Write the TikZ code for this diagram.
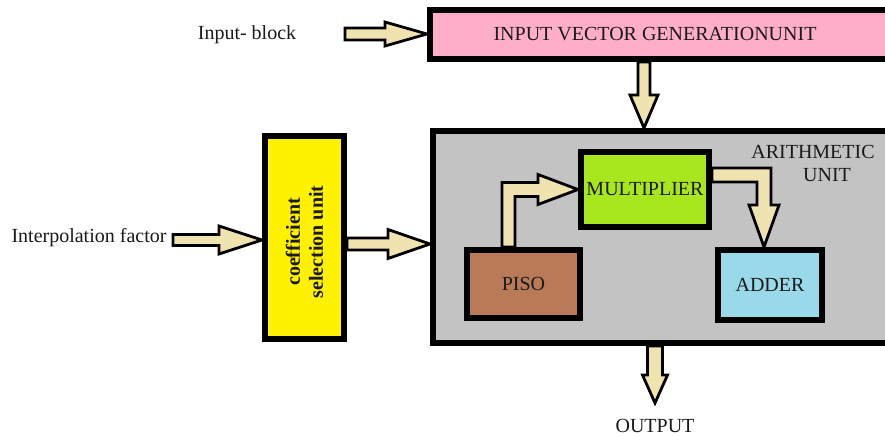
\documentclass[tikz,border=0pt]{standalone}
\usepackage{fontspec}
\setmainfont{Liberation Serif}
\usetikzlibrary{calc}
\definecolor{pinkc}{HTML}{FFAEC9}
\definecolor{grayc}{HTML}{C3C3C3}
\definecolor{yellowc}{HTML}{FFF200}
\definecolor{greenc}{HTML}{A8E61D}
\definecolor{brownc}{HTML}{B97A57}
\definecolor{bluec}{HTML}{99D9EA}
\definecolor{creamc}{HTML}{EFE4B0}
\definecolor{txtc}{HTML}{1A1A1A}
\tikzset{
  blk/.style={draw=black, line width=6pt, inner sep=0pt, text=txtc, font=\fontsize{20}{22}\selectfont},
  lbl/.style={inner sep=0pt, text=txtc, font=\fontsize{20}{22}\selectfont},
  fat/.style={draw=black, fill=creamc, line width=2.8pt, line join=miter},
}
\newcommand\FatH[5]{\draw[fat] let \p1=(#1), \p2=(#2) in
  (\x1,\y1+#4) -- (\x2-#3,\y1+#4) -- (\x2-#3,\y1+#5) -- (\x2,\y1) --
  (\x2-#3,\y1-#5) -- (\x2-#3,\y1-#4) -- (\x1,\y1-#4) -- cycle;}
\newcommand\FatV[5]{\draw[fat] let \p1=(#1), \p2=(#2) in
  (\x1-#4,\y1) -- (\x1-#4,\y2+#3) -- (\x1-#5,\y2+#3) -- (\x1,\y2) --
  (\x1+#5,\y2+#3) -- (\x1+#4,\y2+#3) -- (\x1+#4,\y1) -- cycle;}
\begin{document}
\begin{tikzpicture}[x=1pt,y=-1pt]
\useasboundingbox (0,0) rectangle (885,436);
\fill[white] (0,0) rectangle (885,436);

% boxes
\node[blk, fill=pinkc, minimum width=465pt, minimum height=49pt] (pink) at (662.5,34.5) {\hspace*{-15pt}INPUT VECTOR GENERATIONUNIT};
\node[blk, fill=grayc, minimum width=462pt, minimum height=212pt] (gray) at (664,237) {};
\node[blk, fill=yellowc, minimum width=79pt, minimum height=203pt] (coeff) at (304.5,237.5) {};
\node[lbl, rotate=90, align=center, font=\fontsize{20}{23}\selectfont\bfseries] (cofftxt) at (304.5,242) {coefficient\\selection unit};
\node[blk, fill=greenc, minimum width=128pt, minimum height=75pt] (mult) at (645,189.5) {MULTIPLIER};
\node[blk, fill=brownc, minimum width=113pt, minimum height=68pt] (piso) at (523.5,284) {PISO};
\node[blk, fill=bluec, minimum width=104pt, minimum height=70pt] (adder) at (770,285) {ADDER};

% labels
\node[lbl] (inblk) at (247,35) {Input- block};
\node[lbl] (interp) at (89,238) {Interpolation factor};
\node[lbl] (arith) at (813,152) {ARITHMETIC};
\node[lbl] (unit) at (827,175) {UNIT};
\node[lbl] (outp) at (655,426) {OUTPUT};

% helper coordinates
\coordinate (inA) at (345,34);
\coordinate (xd) at (644,0);
\coordinate (inI) at (173,240);
\coordinate (yc) at (0,244);
\coordinate (xo) at (655,0);
\coordinate (outtip) at (655,403);

% arrows
\FatH{inA}{pink.west |- inA}{42pt}{6pt}{12pt}
\FatV{pink.south -| xd}{gray.north -| xd}{33pt}{6pt}{14pt}
\FatH{inI}{coeff.west |- inI}{43pt}{5.5pt}{14pt}
\FatH{coeff.east |- yc}{gray.west |- yc}{42pt}{6pt}{14.5pt}
\FatV{gray.south -| xo}{outtip}{28pt}{7.5pt}{12.5pt}

% PISO -> MULTIPLIER
\draw[fat] let \p1=(piso.north), \p2=(mult.west) in
  (\x1-21.5pt,\y1) -- (\x1-21.5pt,\y2+7pt) -- (\x2-40pt,\y2+7pt) -- (\x2-40pt,\y2+15pt) --
  (\x2,\y2) -- (\x2-40pt,\y2-15pt) -- (\x2-40pt,\y2-7pt) -- (\x1-8.5pt,\y2-7pt) --
  (\x1-8.5pt,\y1) -- cycle;

% MULTIPLIER -> ADDER
\draw[fat] let \p1=(mult.east), \p2=(adder.north) in
  (\x1,\y1+21.5pt) -- (\x2+1pt,\y1+21.5pt) -- (\x2+1pt,\y2+42pt) -- (\x2+9pt,\y2+42pt) --
  (\x2-6pt,\y2) -- (\x2-21pt,\y2+42pt) -- (\x2-13pt,\y2+42pt) -- (\x2-13pt,\y1+7.5pt) --
  (\x1,\y1+7.5pt) -- cycle;
\end{tikzpicture}
\end{document}
